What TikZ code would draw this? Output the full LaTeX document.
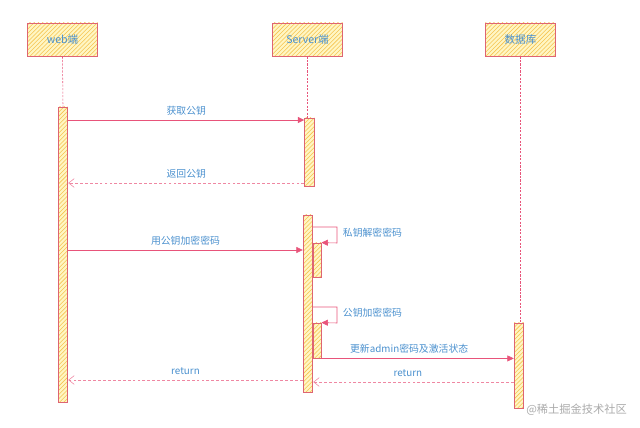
\documentclass[tikz,border=0pt]{standalone}
\usepackage{fontspec}
\usepackage{tikz}
\usetikzlibrary{positioning,arrows.meta,patterns}
\newfontfamily\cjk{Noto Sans CJK SC}
\definecolor{linepink}{RGB}{232,84,122}
\definecolor{boxrule}{RGB}{222,100,115}
\definecolor{boxfill}{RGB}{255,246,196}
\definecolor{hatchline}{RGB}{246,196,80}
\definecolor{txtblue}{RGB}{74,144,206}
\definecolor{markgrey}{RGB}{170,170,170}
\tikzset{
  actor/.style={rectangle,draw=boxrule,semithick,preaction={fill=boxfill},pattern=north east lines,pattern color=hatchline,minimum width=1.75cm,minimum height=0.825cm,font=\cjk\fontsize{7.5}{9}\selectfont,text=txtblue},
  actbar/.style={rectangle,draw=boxrule,semithick,preaction={fill=boxfill},pattern=north east lines,pattern color=hatchline,minimum width=0.24cm,inner sep=0pt},
  nestbar/.style={actbar,minimum width=0.2cm},
  lifeline/.style={draw=linepink,dashed,dash pattern=on 1.5pt off 1pt},
  msg/.style={draw=linepink,-{Triangle[length=1.6mm,width=1.5mm]}},
  reply/.style={draw=linepink!70,dashed,dash pattern=on 2pt off 1.5pt,-{Straight Barb[length=1.4mm,width=2.2mm]}},
  lbl/.style={font=\cjk\fontsize{7}{8.5}\selectfont,text=txtblue}
}

\begin{document}
\begin{tikzpicture}[x=0.025cm,y=-0.025cm]
  \useasboundingbox (0,0) rectangle (640,428);

  % participants
  \node[actor] (web) at (62.5,39.5) {web端};
  \node[actor] (srv) at (307.5,39.5) {Server端};
  \node[actor] (db) at (520.5,39.5) {数据库};

  % activation bars
  \node[actbar,minimum height=7.375cm] (webbar) at (63,254.5) {};
  \node[actbar,minimum height=1.7cm] (srvbar1) at (309.5,152) {};
  \node[actbar,minimum height=4.425cm] (srvbar2) at (308,303.5) {};
  \node[nestbar,minimum height=0.85cm] (nest1) at (317,260) {};
  \node[nestbar,minimum height=0.875cm] (nest2) at (317,340.5) {};
  \node[actbar,minimum height=2.125cm] (dbbar) at (519,365.5) {};

  % lifelines
  \draw[lifeline] (web.south) -- (webbar.north);
  \draw[lifeline] (srv.south) -- (srv.south |- srvbar1.north);
  \draw[lifeline] (db.south) -- (db.south |- dbbar.north);

  % messages
  \draw[msg] (webbar.east |- 0,120) -- node[lbl,above]{获取公钥} (srvbar1.west |- 0,120);
  \draw[reply] (srvbar1.west |- 0,183) -- node[lbl,above]{返回公钥} (webbar.east |- 0,183);
  \draw[msg] (webbar.east |- 0,250) -- node[lbl,above]{用公钥加密密码} (srvbar2.west |- 0,250);

  % self calls
  \draw[msg] (srvbar2.east |- 0,227) -| (337,243) -- (nest1.north east);
  \node[lbl,anchor=west] (selfa) at (338,233) {私钥解密密码};
  \draw[msg] (srvbar2.east |- 0,307) -| (337,323) -- (nest2.north east);
  \node[lbl,anchor=west] (selfb) at (338,313) {公钥加密密码};

  \draw[msg] (nest2.south east) -- node[lbl,above,xshift=-6pt]{更新admin密码及激活状态} (dbbar.west |- nest2.south);
  \draw[reply] (dbbar.west |- 0,382) -- node[lbl,above,xshift=-4pt]{return} (srvbar2.east |- 0,382);
  \draw[reply] (srvbar2.west |- 0,380) -- node[lbl,above]{return} (webbar.east |- 0,380);

  % watermark
  \node[font=\cjk\fontsize{8}{9}\selectfont,text=markgrey,anchor=west,inner sep=0pt] (mark) at (526,410) {@稀土掘金技术社区};
\end{tikzpicture}
\end{document}
